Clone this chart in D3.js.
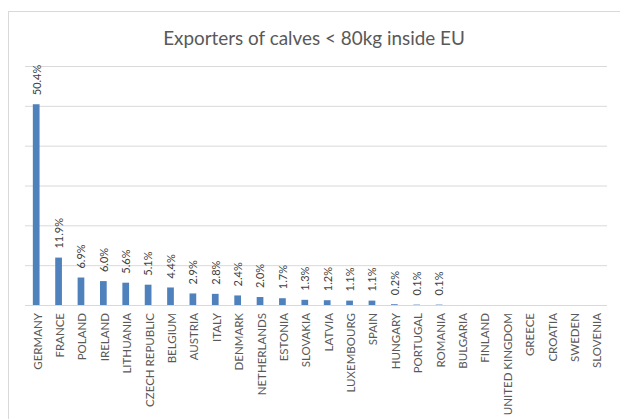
<!DOCTYPE html>
<html>
<head>
<meta charset="utf-8">
<script src="https://cdn.jsdelivr.net/npm/d3@7"></script>
<style>
  html, body { margin: 0; padding: 0; background: #fff; }
  svg { display: block; }
  text { font-family: Lato, "Liberation Sans", sans-serif; }
</style>
</head>
<body>
<svg id="chart" width="620" height="419"></svg>
<script>
// Share of intra-EU exports of calves under 80 kg, by exporting country (%)
const countries = ["GERMANY", "FRANCE", "POLAND", "IRELAND", "LITHUANIA", "CZECH REPUBLIC",
  "BELGIUM", "AUSTRIA", "ITALY", "DENMARK", "NETHERLANDS", "ESTONIA", "SLOVAKIA", "LATVIA",
  "LUXEMBOURG", "SPAIN", "HUNGARY", "PORTUGAL", "ROMANIA", "BULGARIA", "FINLAND",
  "UNITED KINGDOM", "GREECE", "CROATIA", "SWEDEN", "SLOVENIA"];
const shares = [50.4, 11.9, 6.9, 6.0, 5.6, 5.1, 4.4, 2.9, 2.8, 2.4, 2.0, 1.7, 1.3, 1.2,
  1.1, 1.1, 0.2, 0.1, 0.1, 0, 0, 0, 0, 0, 0, 0];
const gridValues = [0, 10, 20, 30, 40, 50, 60];
const titleText = "Exporters of calves < 80kg inside EU";

const svg = d3.select("#chart");
const W = 620, H = 419;
const plot = { left: 25, right: 607, top: 66, bottom: 305 };

// Chart frame
svg.append("rect")
  .attr("x", 8.5).attr("y", 11.5)
  .attr("width", W).attr("height", H)
  .attr("fill", "#fff").attr("stroke", "#d9d9d9").attr("stroke-width", 1);

const x = d3.scaleBand()
  .domain(countries)
  .range([plot.left, plot.right])
  .paddingInner(0.7)
  .paddingOuter(0.35);

const y = d3.scaleLinear()
  .domain([0, d3.max(gridValues)])
  .range([plot.bottom, plot.top]);

// Horizontal gridlines
const yAxis = d3.axisLeft(y).tickValues(gridValues)
  .tickSize(-(plot.right - plot.left)).tickFormat("");
const gy = svg.append("g")
  .attr("transform", `translate(${plot.left},0)`)
  .call(yAxis);
gy.select(".domain").remove();
gy.selectAll(".tick line").attr("stroke", "#d9d9d9").attr("stroke-width", 1);

// Bars
svg.append("g").selectAll("rect")
  .data(countries.map((c, i) => ({ c, v: shares[i] })))
  .join("rect")
  .attr("x", d => x(d.c))
  .attr("width", x.bandwidth())
  .attr("y", d => y(d.v))
  .attr("height", d => y(0) - y(d.v))
  .attr("fill", "#4f81bd");

// Value labels above the bars (only for countries with exports)
svg.append("g").selectAll("text")
  .data(countries.map((c, i) => ({ c, v: shares[i] })).filter(d => d.v > 0))
  .join("text")
  .attr("transform", d => `translate(${x(d.c) + x.bandwidth() / 2 + 0.5},${y(d.v) - 9}) rotate(-90)`)
  .attr("dy", "0.35em")
  .attr("text-anchor", "start")
  .attr("font-size", 11)
  .attr("fill", "#404040")
  .text(d => d.v.toFixed(1) + "%");

// Category axis
const xAxis = d3.axisBottom(x).tickSize(0).tickPadding(0);
const gx = svg.append("g")
  .attr("transform", `translate(0,${plot.bottom})`)
  .call(xAxis);
gx.select(".domain").remove();
gx.selectAll(".tick text")
  .attr("font-family", "Lato, sans-serif")
  .attr("font-size", 11.5)
  .attr("fill", "#595959")
  .attr("text-anchor", "end")
  .attr("transform", "translate(1.5,8) rotate(-90)")
  .attr("x", 0).attr("y", 0)
  .attr("dy", "0.35em");

// Title
const title = svg.append("text")
  .attr("x", 314).attr("y", 45)
  .attr("text-anchor", "middle")
  .attr("font-size", 18)
  .attr("fill", "#595959")
  .text(titleText);
const tw = title.node().getComputedTextLength();
title.attr("font-size", 18 * 302 / tw);
</script>
</body>
</html>
